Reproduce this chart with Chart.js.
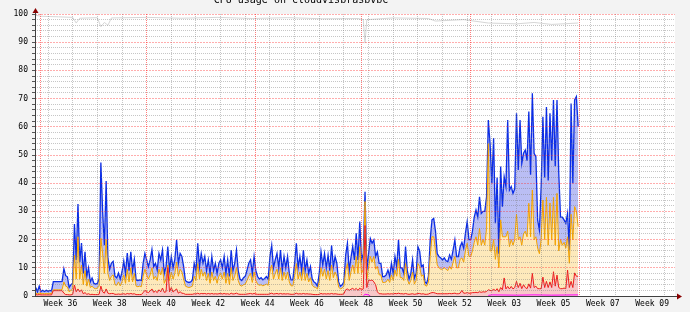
<!DOCTYPE html>
<html>
<head>
<meta charset="utf-8">
<script src="https://cdn.jsdelivr.net/npm/chart.js@4.4.0/dist/chart.umd.min.js"></script>
<style>
  html, body { margin: 0; padding: 0; background: #f3f3f3; }
  canvas { display: block; }
</style>
</head>
<body>
<canvas id="cpu" width="690" height="312"></canvas>
<script>
// Samples are every half day. Day 0 = 1 Sep, one row per week.
const firstDay = -1.5;
const stepDays = 0.5;

const titleText = 'CPU usage on cloudvisbrasbvbc';

// total cpu (blue)
const totalCpu = [
  3, 1.5, 3.5, 1.5, 2, 1.6, 2, 1.7, 2, 1.8, 5.1, 5.1, 5.1, 5.1,
  5.1, 5.2, 9.7, 7.2, 6.8, 3, 4, 4.5, 25.5, 12.8, 32.6, 12, 18.8, 8,
  15.7, 7, 10, 5, 6.4, 4.5, 4.2, 4.5, 6, 47.3, 30, 18, 40.8, 13.4,
  9.5, 11.7, 12.3, 7, 6.4, 8.1, 6, 8.6, 12.4, 8, 15.2, 9, 15.7, 9,
  13, 5.7, 5.5, 5.7, 5.5, 11.6, 15.1, 12.8, 10.4, 12.8, 16.5, 10.4, 11.6, 9.2,
  15.1, 12.8, 16.3, 8, 10.4, 17.5, 9.2, 14, 10, 13, 19.9, 11.6, 15.1, 14,
  10.4, 5.5, 5, 4.8, 5, 5.7, 11.6, 9, 18.7, 10.4, 15.1, 11.6, 14, 9,
  12.8, 8, 14, 9, 11.6, 8, 11.6, 12.8, 10, 14, 8, 12.8, 6.9, 16.3,
  9, 11.6, 16.3, 9, 6, 5.5, 6.5, 7, 9.2, 11.6, 12.8, 8, 14, 9,
  6.9, 6, 6.5, 5.7, 6.2, 6.9, 6, 14, 18, 10, 12.8, 15.1, 10, 16.3,
  9, 14, 10, 14, 8, 5.7, 5.7, 11.6, 18.7, 10, 14, 9, 16.3, 9,
  12.8, 8, 10.4, 6, 5, 4.5, 3.5, 8, 15.7, 11, 15.1, 10, 14.5, 9,
  18, 10.4, 14, 11.6, 5, 3.5, 4, 5, 14.5, 18.7, 9, 13.5, 17.5, 12.8,
  22.2, 12.8, 26.4, 12.8, 15, 37, 9.2, 15, 20.4, 18.7, 19.9, 14, 15.7, 11.6,
  11.6, 6.9, 6.9, 7.5, 9.2, 7, 11.6, 8, 14, 10.4, 19.9, 10, 10, 8,
  17.5, 9, 6, 8, 12.8, 6.3, 8, 17.5, 16, 10.4, 11, 5, 4.5, 7,
  20, 27, 27.5, 23, 15, 14, 13.5, 12.8, 13.5, 12.5, 12.2, 14.5, 13, 16.3,
  19.9, 14, 14, 17.5, 19, 17, 22.2, 26.4, 20, 20, 23, 28, 30.5, 28,
  35.2, 29.3, 30, 30, 35.2, 62.4, 54, 40, 56, 25.8, 42, 15, 45.9, 31.7,
  42.3, 38.8, 62.4, 37.6, 38.8, 36.4, 38, 64.8, 44.7, 62.4, 47, 50.6, 51.8, 48,
  65.4, 43, 71.9, 50.6, 49.4, 27, 23.4, 38.8, 63.6, 42, 67, 41, 64.8, 48,
  69.5, 46, 69.5, 43.5, 28, 28, 27, 25.8, 29.3, 16.3, 68.3, 40, 69.5, 70.7,
  60
];

// user cpu (orange), stacked top
const userCpu = [
  1, 0.8, 1, 0.8, 0.9, 0.8, 0.9, 0.8, 0.9, 0.9, 2.2, 2.2, 2.2, 2.2,
  2.2, 2.3, 5, 3.5, 3.2, 1.5, 2, 2.5, 14.5, 6, 21, 6, 11, 4,
  9, 3.5, 6, 3, 3.5, 2.8, 2.6, 2.8, 3.5, 20.5, 15, 8, 20, 8,
  5.5, 7, 7.5, 4, 3.8, 5, 3.6, 5, 7.5, 4.5, 9.5, 5, 10, 5,
  8, 3.5, 3.3, 3.5, 3.3, 7, 9.5, 7.5, 6, 7.5, 10, 6, 7, 5.5,
  9.5, 7.5, 10, 4.5, 6, 11, 5.5, 8.5, 6, 8, 12, 7, 9.5, 8.5,
  6, 3.5, 3.2, 3, 3.2, 3.5, 7, 5.5, 11.5, 6, 9.5, 7, 8.5, 5.5,
  8, 4.5, 8.5, 5.5, 7, 4.5, 7, 8, 6, 8.5, 4.5, 8, 4, 10,
  5.5, 7, 10, 5.5, 3.8, 3.5, 4, 4.2, 5.5, 7, 8, 4.8, 8.5, 5.5,
  4.2, 3.8, 4, 3.6, 3.9, 4.2, 3.8, 8.5, 11, 6, 8, 9.5, 6, 10,
  5.5, 8.5, 6, 8.5, 5, 3.6, 3.6, 7, 11.5, 6, 8.5, 5.5, 10, 5.5,
  8, 5, 6.5, 3.8, 3.2, 3, 2.5, 5, 10, 7, 9.5, 6, 9, 5.5,
  11, 6.5, 8.5, 7, 3.2, 2.5, 2.8, 3.5, 9, 11.5, 5.5, 8.5, 11, 8,
  14, 8, 17.5, 8, 9.5, 33.5, 6, 10, 14, 12, 14, 9.5, 10.5, 7.5,
  7.5, 4.8, 4.8, 5, 6, 4.8, 7.5, 5.5, 9.2, 7, 13, 6.5, 6.5, 5.5,
  11.5, 6, 4.2, 5.5, 8.5, 4.2, 5.5, 11.5, 10.5, 7, 7.5, 3.8, 3.5, 5,
  14, 21, 21, 16, 11, 10, 9.5, 9.5, 10, 9.5, 9, 10.5, 9.5, 12,
  14, 10, 10, 13, 13.5, 12, 16, 18.7, 14, 14, 16, 19, 21, 18,
  24, 18, 20, 18, 24, 54, 16, 16, 20, 13, 17.5, 10, 27, 21,
  21, 21, 23, 17.5, 20, 18, 20, 29, 20, 21, 18, 22, 23, 21,
  32.9, 21, 37.6, 20, 21, 17, 15, 20, 34, 20, 35, 18, 33, 20,
  35, 18, 36.4, 16, 20, 18, 19, 17, 21, 11.6, 29, 20, 31.7, 30,
  24.6
];

// system cpu (red), bottom layer
const systemCpu = [
  0.5, 0.4, 0.5, 0.4, 0.4, 0.4, 0.4, 0.4, 0.4, 0.4, 1.9, 1.9, 1.9, 1.9,
  1.9, 1.9, 1.0, 0.5, 0.5, 0.4, 0.4, 0.6, 3.9, 1.5, 2.5, 1.5, 2.2, 0.8,
  1.2, 0.6, 0.8, 0.5, 0.6, 0.5, 0.5, 0.5, 0.6, 3.5, 1.5, 1, 2.5, 1,
  0.8, 0.9, 0.9, 0.6, 0.6, 0.7, 0.6, 0.7, 0.8, 0.6, 0.9, 0.7, 0.9, 0.7,
  0.8, 0.5, 0.5, 0.5, 0.5, 1.2, 2, 1.5, 1.2, 1.8, 2.5, 1.3, 1.8, 1.2,
  2.2, 1.5, 2.8, 1.3, 1.5, 10, 1.5, 3, 1.4, 2, 2.5, 1, 1.5, 1,
  0.9, 0.6, 0.6, 0.6, 0.6, 0.6, 0.8, 0.7, 1, 0.7, 0.9, 0.8, 0.9, 0.7,
  0.9, 0.7, 0.9, 0.7, 0.8, 0.7, 0.8, 0.9, 0.7, 0.9, 0.7, 0.8, 0.6, 1,
  0.7, 0.8, 1, 0.7, 0.6, 0.6, 0.6, 0.6, 0.7, 0.8, 0.9, 0.7, 0.9, 0.7,
  0.6, 0.6, 0.6, 0.6, 0.6, 0.6, 0.6, 0.8, 1, 0.7, 0.8, 0.9, 0.7, 0.9,
  0.7, 0.8, 0.7, 0.8, 0.7, 0.6, 0.6, 0.7, 1, 0.7, 0.8, 0.7, 0.9, 0.7,
  0.8, 0.7, 0.7, 0.6, 0.5, 0.5, 0.5, 0.6, 0.9, 0.7, 0.8, 0.7, 0.8, 0.7,
  0.9, 0.7, 0.8, 0.7, 0.6, 0.6, 0.6, 0.8, 2.2, 2.5, 2, 2.4, 2.7, 2.2,
  2.7, 2, 2.8, 2.2, 2.5, 25, 3, 5.7, 5.5, 5.7, 5, 4, 1.5, 0.8,
  0.8, 0.7, 0.7, 0.7, 0.8, 0.7, 0.8, 0.7, 0.9, 0.8, 1, 0.8, 0.8, 0.7,
  0.9, 0.7, 0.6, 0.7, 0.8, 0.6, 0.7, 0.9, 0.9, 0.7, 0.8, 0.6, 0.6, 0.7,
  1, 1.2, 1.2, 1, 0.8, 0.8, 0.8, 0.8, 0.8, 0.8, 0.8, 0.9, 0.8, 0.9,
  1, 0.8, 0.8, 1, 2, 1, 1, 1.2, 1, 1, 1.2, 1.2, 1.3, 1.2,
  1.5, 1.3, 1.5, 1.4, 1.6, 2.2, 2, 1.8, 2.5, 1.8, 2.6, 1.5, 3, 2.2,
  6.4, 2.5, 3.4, 2.5, 3.4, 2.5, 3, 5.2, 3, 4.5, 2.6, 4, 3, 2.6,
  4.3, 2.8, 8, 3, 3.5, 2.6, 2.6, 2.6, 6.7, 3, 5.2, 3, 5, 3,
  8.6, 3.5, 7.4, 3, 2.6, 2.6, 2.8, 2.6, 9.2, 3, 5.2, 3, 8.2, 7,
  7
];

// thin magenta trace near the bottom
const niceDays   = [91.5, 92, 93, 93.5, 94, 127, 128, 135, 140, 145, 152.5];
const niceValues = [0, 0.6, 0.4, 0, null, 0.2, 0.4, 0.3, 0.4, 0.3, 0.4];

// faint grey trace near the top
const idleDays   = [-1.7, 0, 5, 9, 10, 11, 16, 17, 18, 19, 20, 30, 40, 50, 60, 70, 80, 90, 91.5, 92, 92.5, 100, 110, 112, 120, 127, 135, 140, 145, 152.5];
const idleValues = [99.6, 99.2, 99, 98.8, 96.8, 98.5, 98.7, 95.5, 97, 96, 98.6, 98.8, 98.5, 98.8, 98.4, 98.7, 98.3, 98.4, 98, 89.7, 98, 98.6, 98.4, 97.5, 98, 96.8, 96.5, 97, 96.3, 96.8];

// axis
const dayMin = -1.7;
const dayMax = 180;
const weekLabels = ['Week 36', 'Week 38', 'Week 40', 'Week 42', 'Week 44', 'Week 46', 'Week 48',
                    'Week 50', 'Week 52', 'Week 03', 'Week 05', 'Week 07', 'Week 09'];
const weekLabelFirstDay = 5.5;
const firstMonday = 2;
const monthStartDays = [0, 30, 61, 91, 122, 153];
const yMax = 100;
const yMinorStep = 2;
const yMajorTicks = [0, 10, 20, 30, 40, 50, 60, 70, 80, 90, 100];

const gridDays = [];
for (let d = firstMonday; d < dayMax; d += 7) if (!monthStartDays.includes(d)) gridDays.push(d);
monthStartDays.forEach(d => gridDays.push(d));
gridDays.sort((a, b) => a - b);

const yTicks = [];
for (let v = 0; v <= yMax; v += yMinorStep) yTicks.push(v);

const RED_GRID = 'rgba(255, 70, 70, 0.7)';
const RED_HGRID = 'rgba(255, 40, 40, 0.38)';
const GREY_GRID = 'rgba(120, 120, 120, 0.42)';
const MONO = 'DejaVu Sans Mono';

const toPoints = vals => vals.map((v, i) => ({ x: firstDay + i * stepDays, y: v }));
const pairUp = (xs, ys) => xs.map((x, i) => ({ x: x, y: ys[i] }));

const rrdFrame = {
  id: 'rrdFrame',
  beforeDraw(chart) {
    const { ctx, chartArea: a } = chart;
    ctx.save();
    ctx.fillStyle = '#ffffff';
    ctx.fillRect(a.left, a.top, a.right - a.left, a.bottom - a.top);
    ctx.restore();
  },
  afterDraw(chart) {
    const { ctx, chartArea: a } = chart;
    ctx.save();
    ctx.strokeStyle = '#404040';
    ctx.lineWidth = 1;
    ctx.beginPath();
    ctx.moveTo(a.left + 0.5, a.bottom);
    ctx.lineTo(a.left + 0.5, a.top - 4);
    ctx.moveTo(a.left, a.bottom + 0.5);
    ctx.lineTo(a.right + 3, a.bottom + 0.5);
    ctx.stroke();
    // arrow heads
    ctx.fillStyle = '#8a0000';
    ctx.beginPath();
    ctx.moveTo(a.left + 0.5, a.top - 6);
    ctx.lineTo(a.left - 2.5, a.top - 1);
    ctx.lineTo(a.left + 3.5, a.top - 1);
    ctx.closePath();
    ctx.fill();
    ctx.beginPath();
    ctx.moveTo(a.right + 7, a.bottom + 0.5);
    ctx.lineTo(a.right + 2, a.bottom - 2.5);
    ctx.lineTo(a.right + 2, a.bottom + 3.5);
    ctx.closePath();
    ctx.fill();
    // title, cut off at the top edge
    ctx.fillStyle = '#000000';
    ctx.font = '10px "' + MONO + '"';
    ctx.textAlign = 'center';
    ctx.textBaseline = 'alphabetic';
    ctx.fillText(titleText, 301, 3);
    ctx.restore();
  }
};

new Chart(document.getElementById('cpu'), {
  type: 'line',
  data: {
    datasets: [
      { label: 'nice', data: pairUp(niceDays, niceValues), borderColor: '#ff00ff', borderWidth: 1, fill: false, spanGaps: false },
      { label: 'system', data: toPoints(systemCpu), borderColor: '#ee1c1c', backgroundColor: '#f8c8c8', borderWidth: 1, fill: 'origin' },
      { label: 'user', data: toPoints(userCpu), borderColor: '#f5a400', backgroundColor: '#fde9bb', borderWidth: 1, fill: 'origin' },
      { label: 'total', data: toPoints(totalCpu), borderColor: '#0b2de6', backgroundColor: '#babef4', borderWidth: 1.3, fill: 'origin' },
      { label: 'idle', data: pairUp(idleDays, idleValues), borderColor: '#d6d6d6', borderWidth: 1, fill: false }
    ]
  },
  options: {
    responsive: false,
    animation: false,
    devicePixelRatio: 1,
    parsing: false,
    elements: { point: { radius: 0 }, line: { tension: 0 } },
    layout: { padding: { top: 14, right: 15, bottom: 0, left: 0 } },
    plugins: { legend: { display: false }, tooltip: { enabled: false } },
    scales: {
      x: {
        type: 'linear',
        position: 'bottom',
        min: dayMin,
        max: dayMax,
        afterBuildTicks: s => { s.ticks = weekLabels.map((_, k) => ({ value: weekLabelFirstDay + 14 * k })); },
        ticks: {
          autoSkip: false,
          maxRotation: 0,
          padding: 3,
          color: '#000000',
          font: { family: MONO, size: 8 },
          callback: (v, i) => weekLabels[i]
        },
        grid: { display: false, drawTicks: false },
        border: { display: false },
        afterFit: s => { s.height = 16; }
      },
      xg: {
        type: 'linear',
        position: 'top',
        min: dayMin,
        max: dayMax,
        afterBuildTicks: s => { s.ticks = gridDays.map(v => ({ value: v })); },
        ticks: { display: false },
        grid: {
          z: 1,
          drawTicks: false,
          lineWidth: 1,
          color: c => (c.tick && monthStartDays.includes(c.tick.value) ? RED_GRID : GREY_GRID)
        },
        border: { display: false, dash: [1, 1] },
        afterFit: s => { s.height = 0; }
      },
      y: {
        min: 0,
        max: yMax,
        afterBuildTicks: s => { s.ticks = yTicks.map(v => ({ value: v })); },
        ticks: {
          autoSkip: false,
          padding: 4,
          color: '#000000',
          font: { family: MONO, size: 8 },
          callback: v => (v % 10 === 0 ? String(v) : '')
        },
        grid: {
          z: 1,
          lineWidth: 1,
          tickLength: 3,
          tickColor: '#555555',
          color: c => (c.tick && yMajorTicks.includes(c.tick.value) ? 'rgba(0,0,0,0)' : GREY_GRID)
        },
        border: { display: false, dash: [1, 1] },
        afterFit: s => { s.width = 35; }
      },
      yMajor: {
        type: 'linear',
        position: 'right',
        min: 0,
        max: yMax,
        afterBuildTicks: s => { s.ticks = yMajorTicks.map(v => ({ value: v })); },
        ticks: { display: false },
        grid: { z: 2, drawTicks: false, lineWidth: 1, color: RED_HGRID },
        border: { display: false, dash: [2, 1] },
        afterFit: s => { s.width = 0; }
      }
    }
  },
  plugins: [rrdFrame]
});
</script>
</body>
</html>
